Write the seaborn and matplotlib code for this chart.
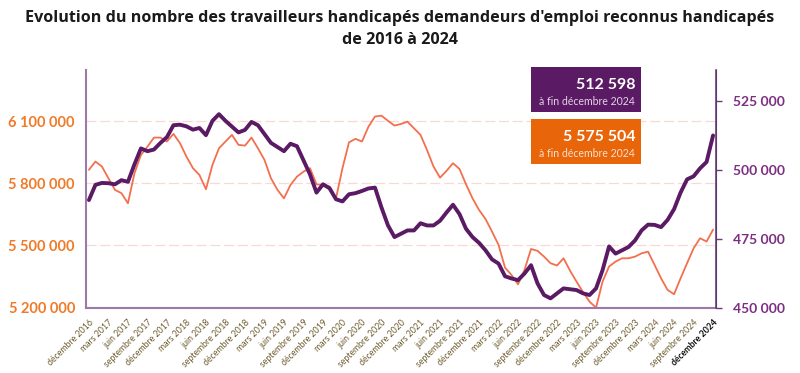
import matplotlib.pyplot as plt
import numpy as np
import pandas as pd
import seaborn as sns
from matplotlib.patches import Rectangle

# Monthly values, December 2016 -> December 2024
# demandeurs d'emploi (left axis, in thousands)
total_demandeurs = [
    5865, 5905, 5881, 5824, 5768, 5752, 5703, 5848, 5937, 5977,
    6021, 6021, 6002, 6039, 5994, 5929, 5873, 5840, 5771, 5889,
    5969, 6002, 6034, 5986, 5982, 6021, 5969, 5913, 5824, 5768,
    5727, 5792, 5832, 5856, 5873, 5795, 5792, 5784, 5727, 5873,
    5998, 6015, 6002, 6074, 6123, 6127, 6102, 6079, 6087, 6098,
    6066, 6034, 5961, 5881, 5827, 5860, 5897, 5869, 5795, 5727,
    5671, 5627, 5566, 5502, 5392, 5356, 5311, 5381, 5482, 5473,
    5445, 5413, 5402, 5437, 5377, 5324, 5273, 5227, 5198, 5324,
    5397, 5421, 5437, 5437, 5445, 5461, 5469, 5405, 5340, 5284,
    5263, 5340, 5413, 5485, 5534, 5518, 5575.504,
]
# travailleurs handicapés demandeurs d'emploi (right axis, in thousands)
travailleurs_handicapes = [
    489.2, 494.7, 495.4, 495.3, 494.9, 496.4, 495.8, 502.1, 507.9, 506.9,
    507.5, 509.9, 512.0, 516.3, 516.5, 515.9, 514.7, 515.3, 512.7, 517.9,
    520.3, 517.9, 515.8, 513.7, 514.6, 517.5, 516.3, 513.1, 509.9, 508.4,
    506.9, 509.6, 508.7, 503.6, 498.5, 491.9, 494.9, 493.5, 489.5, 488.7,
    491.3, 491.7, 492.5, 493.4, 493.7, 486.5, 480.0, 475.8, 477.0, 478.2,
    478.2, 480.8, 480.0, 480.0, 481.7, 484.7, 487.5, 484.1, 478.8, 475.8,
    473.7, 471.0, 467.7, 466.2, 461.6, 460.8, 460.2, 462.6, 465.6, 459.0,
    454.8, 453.6, 455.4, 457.2, 456.9, 456.6, 455.4, 454.8, 457.2, 463.8,
    472.4, 469.8, 471.0, 472.2, 474.6, 478.2, 480.3, 480.2, 479.4, 482.0,
    485.9, 491.9, 496.7, 497.8, 500.7, 503.0, 512.598,
]
tick_labels = [
    "décembre 2016", "mars 2017", "juin 2017", "septembre 2017",
    "décembre 2017", "mars 2018", "juin 2018", "septembre 2018",
    "décembre 2018", "mars 2019", "juin 2019", "septembre 2019",
    "décembre 2019", "mars 2020", "juin 2020", "septembre 2020",
    "décembre 2020", "mars 2021", "juin 2021", "septembre 2021",
    "décembre 2021", "mars 2022", "juin 2022", "septembre 2022",
    "décembre 2022", "mars 2023", "juin 2023", "septembre 2023",
    "décembre 2023", "mars 2024", "juin 2024", "septembre 2024",
    "décembre 2024",
]
left_ticks = [5200000, 5500000, 5800000, 6100000]
right_ticks = [450000, 475000, 500000, 525000]

ORANGE = "#f36f4e"
PURPLE = "#5a1a64"
ORANGE_TXT = "#f07a28"
PURPLE_TXT = "#7d2d82"


def fmt(v):
    return f"{int(round(v)):,}".replace(",", " ")


df = pd.DataFrame({
    "mois": np.arange(len(total_demandeurs)),
    "total": np.array(total_demandeurs) * 1000,
    "th": np.array(travailleurs_handicapes) * 1000,
})

sns.set_style("white")
plt.rcParams["font.family"] = ["Lato", "DejaVu Sans"]

fig = plt.figure(figsize=(8, 3.73), dpi=100)
ax = fig.add_axes([0.1075, 0.1735, 0.7875, 0.6388])
ax2 = ax.twinx()

sns.lineplot(data=df, x="mois", y="total", ax=ax, color=ORANGE, linewidth=1.3)
sns.lineplot(data=df, x="mois", y="th", ax=ax2, color=PURPLE, linewidth=2.8)

ax.set_xlim(-0.45, len(df) - 1 + 0.45)
ax.set_ylim(5195000, 6348000)
ax2.set_ylim(450000, 536300)

ax.set_yticks(left_ticks)
ax.set_yticklabels([fmt(v) for v in left_ticks], color=ORANGE_TXT,
                   fontsize=10.5, fontweight="bold")
ax2.set_yticks(right_ticks)
ax2.set_yticklabels([fmt(v) for v in right_ticks], color=PURPLE_TXT,
                    fontsize=10, fontweight="bold")
ax.tick_params(axis="y", length=0, pad=8)
ax2.tick_params(axis="y", length=4, width=1, color="#6b3d7a", pad=8)

ax.set_xticks(np.arange(0, len(df), 3))
ax.set_xticklabels(tick_labels, rotation=45, ha="right", rotation_mode="anchor",
                   fontsize=6.3, color="#6e5c2e")
ax.get_xticklabels()[-1].set_fontweight("bold")
ax.get_xticklabels()[-1].set_color("#111111")
ax.tick_params(axis="x", length=0, pad=7)

ax.set_xlabel("")
ax.set_ylabel("")
ax2.set_ylabel("")

ax.yaxis.grid(True, color="#f8d9d3", linestyle=(0, (8, 3)), linewidth=0.9)
ax.xaxis.grid(False)
ax2.grid(False)

for a in (ax, ax2):
    a.spines["top"].set_visible(False)
ax.spines["left"].set_color("#9c79a8")
ax.spines["bottom"].set_color("#9c79a8")
ax.spines["left"].set_linewidth(1.5)
ax.spines["bottom"].set_linewidth(1.5)
ax2.spines["right"].set_color("#6b3d7a")
ax2.spines["right"].set_linewidth(1.2)
ax2.spines["left"].set_visible(False)
ax2.spines["bottom"].set_visible(False)

# title
title_font = ["Open Sans", "DejaVu Sans"]
fig.text(0.5, 0.952, "Evolution du nombre des travailleurs handicapés demandeurs "
         "d'emploi reconnus handicapés", ha="center", va="center",
         fontsize=11.6, fontweight="bold", family=title_font, color="#1a1a1a")
fig.text(0.5, 0.893, "de 2016 à 2024", ha="center", va="center",
         fontsize=11.6, fontweight="bold", family=title_font, color="#1a1a1a")

# last value boxes
boxes = [
    (0.6997, PURPLE, travailleurs_handicapes[-1] * 1000, "#e4d3e8"),
    (0.5603, "#e8650a", total_demandeurs[-1] * 1000, "#fbe0cc"),
]
for y0, col, val, subcol in boxes:
    fig.add_artist(Rectangle((0.664, y0), 0.137, 0.1205, transform=fig.transFigure,
                             facecolor=col, edgecolor="none"))
    fig.text(0.794, y0 + 0.073, fmt(val), ha="right", va="center",
             fontsize=11.5, fontweight="bold", color="white")
    fig.text(0.794, y0 + 0.029, "à fin décembre 2024", ha="right", va="center",
             fontsize=7.6, color=subcol)

fig.savefig("out.png", dpi=100)
